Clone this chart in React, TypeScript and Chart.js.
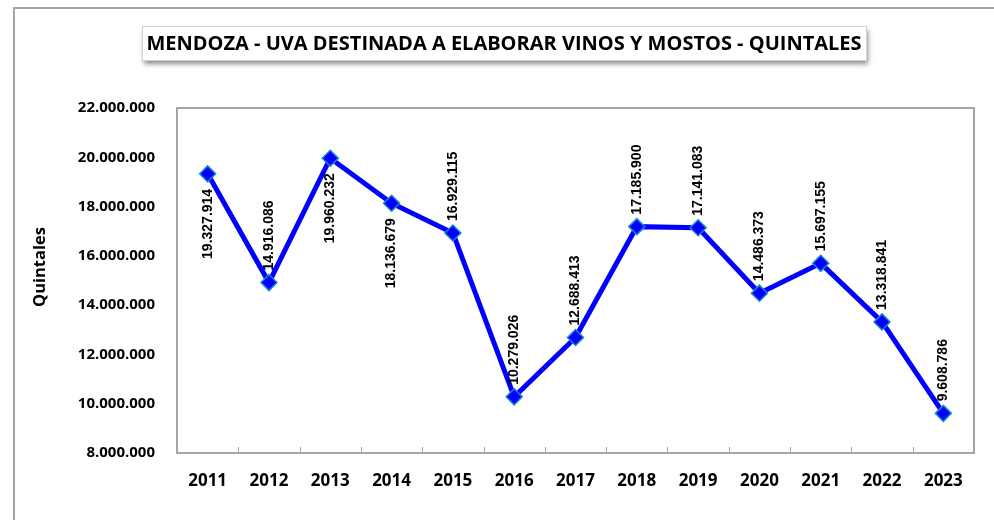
import React, { useEffect, useRef } from 'react';
import { Chart, registerables } from 'chart.js';

Chart.register(...registerables);

// ---- Data ----
const years = ['2011', '2012', '2013', '2014', '2015', '2016', '2017', '2018', '2019', '2020', '2021', '2022', '2023'];
const quintales = [19327914, 14916086, 19960232, 18136679, 16929115, 10279026, 12688413, 17185900, 17141083, 14486373, 15697155, 13318841, 9608786];
const labelPlacement = ['below', 'above', 'below', 'below', 'above', 'above', 'above', 'above', 'above', 'above', 'above', 'above', 'above'];
const yMin = 8000000;
const yMax = 22000000;
const yStep = 2000000;
const chartTitle = 'MENDOZA - UVA DESTINADA A ELABORAR VINOS Y MOSTOS - QUINTALES';
const yAxisTitle = 'Quintales';

function fmt(n: number): string {
  return Math.round(n).toString().replace(/\B(?=(\d{3})+(?!\d))/g, '.');
}

const decorPlugin = {
  id: 'decor',
  beforeDraw(chart: any) {
    const ctx = chart.ctx;
    ctx.save();
    ctx.fillStyle = '#ffffff';
    ctx.fillRect(0, 0, chart.width, chart.height);
    // outer frame
    ctx.strokeStyle = '#A6A6A6';
    ctx.lineWidth = 2;
    ctx.strokeRect(14, 8, 1000, 600);
    // title box with shadow
    const bx = 142, by = 26, bw = 724, bh = 34;
    ctx.save();
    ctx.shadowColor = 'rgba(0,0,0,0.45)';
    ctx.shadowBlur = 5;
    ctx.shadowOffsetX = 2;
    ctx.shadowOffsetY = 4;
    ctx.fillStyle = '#ffffff';
    ctx.fillRect(bx, by, bw, bh);
    ctx.restore();
    ctx.strokeStyle = '#D0D0D0';
    ctx.lineWidth = 1;
    ctx.strokeRect(bx + 0.5, by + 0.5, bw, bh);
    ctx.fillStyle = '#000000';
    ctx.font = 'bold 20px "Open Sans", sans-serif';
    ctx.textAlign = 'center';
    ctx.textBaseline = 'middle';
    ctx.fillText(chartTitle, bx + bw / 2, by + bh / 2 + 1);
    // y axis title
    ctx.save();
    ctx.translate(40, 267);
    ctx.rotate(-Math.PI / 2);
    ctx.font = 'bold 16.5px "Open Sans", sans-serif';
    ctx.fillText(yAxisTitle, 0, 0);
    ctx.restore();
    ctx.restore();
  },
  beforeDatasetsDraw(chart: any) {
    const ctx = chart.ctx;
    const a = chart.chartArea;
    const xs = chart.scales.x;
    ctx.save();
    ctx.strokeStyle = '#A6A6A6';
    ctx.lineWidth = 2;
    ctx.strokeRect(a.left, a.top, a.right - a.left, a.bottom - a.top);
    ctx.lineWidth = 1;
    for (let i = 1; i < years.length; i++) {
      const x = Math.round((xs.getPixelForValue(i - 1) + xs.getPixelForValue(i)) / 2) + 0.5;
      ctx.beginPath();
      ctx.moveTo(x, a.bottom);
      ctx.lineTo(x, a.bottom - 6);
      ctx.stroke();
    }
    ctx.restore();
  },
  afterDatasetsDraw(chart: any) {
    const ctx = chart.ctx;
    const meta = chart.getDatasetMeta(0);
    ctx.save();
    ctx.fillStyle = '#000000';
    ctx.font = 'bold 14px "Liberation Sans", Arial, sans-serif';
    ctx.textBaseline = 'middle';
    meta.data.forEach((pt: any, i: number) => {
      const text = fmt(quintales[i]);
      ctx.save();
      if (labelPlacement[i] === 'above') {
        ctx.translate(pt.x, pt.y - 12);
        ctx.rotate(-Math.PI / 2);
        ctx.textAlign = 'left';
      } else {
        ctx.translate(pt.x, pt.y + 15);
        ctx.rotate(-Math.PI / 2);
        ctx.textAlign = 'right';
      }
      ctx.fillText(text, 0, 0);
      ctx.restore();
    });
    ctx.restore();
  },
};

export default function App() {
  const ref = useRef<HTMLCanvasElement | null>(null);
  useEffect(() => {
    if (!ref.current) return;
    const chart = new Chart(ref.current, {
      type: 'line',
      data: {
        labels: years,
        datasets: [
          {
            data: quintales,
            borderColor: '#0000FF',
            borderWidth: 5,
            tension: 0,
            pointStyle: 'rectRot',
            pointRadius: 8,
            pointBackgroundColor: '#0000FF',
            pointBorderColor: '#1A86D0',
            pointBorderWidth: 1.5,
          },
        ],
      },
      options: {
        responsive: false,
        animation: false,
        devicePixelRatio: 1,
        layout: { padding: { top: 108, right: 20, bottom: 0, left: 0 } },
        plugins: {
          legend: { display: false },
          tooltip: { enabled: false },
          title: { display: false },
        },
        scales: {
          x: {
            offset: true,
            grid: { display: false, drawTicks: false },
            border: { display: false },
            ticks: {
              color: '#000000',
              padding: 18,
              font: { family: '"Open Sans", sans-serif', size: 17, weight: 'bold' },
            },
            afterFit: (s: any) => {
              s.height = 67;
            },
          },
          y: {
            min: yMin,
            max: yMax,
            grid: { display: false, drawTicks: false },
            border: { display: false },
            ticks: {
              stepSize: yStep,
              color: '#000000',
              padding: 22,
              font: { family: '"Open Sans", sans-serif', size: 15, weight: 'bold' },
              callback: (v: any) => fmt(Number(v)),
            },
            afterFit: (s: any) => {
              s.width = 177;
            },
          },
        },
      },
      plugins: [decorPlugin],
    } as any);
    return () => chart.destroy();
  }, []);
  return (
    <div style={{ position: 'fixed', left: 0, top: 0, width: 994, height: 520 }}>
      <canvas ref={ref} width={994} height={520} style={{ display: 'block' }} />
    </div>
  );
}
